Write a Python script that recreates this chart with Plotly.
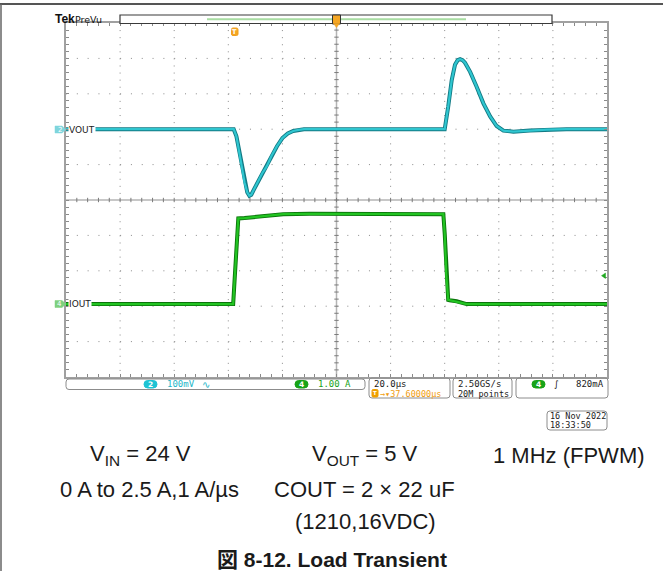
import plotly.graph_objects as go

# ---------------- data (read from the scope capture) ----------------
vout_time_us = [-100, -60, -38.0, -37.0, -36.0, -35.0, -34.0, -33.0, -32.2, -31.5, -30.5,
                -29.5, -27.5, -25.8, -24.0, -22.0, -20.0, -18.0, -16.0, -14.0, -12.0, 0,
                20, 40.0, 41.3, 42.6, 43.8, 44.8, 45.7, 46.6, 47.5, 49.4, 51.8, 54.3,
                56.8, 59.2, 61.7, 65.4, 71.5, 77.7, 85, 100]
vout_dev_mv = [0, 0, 0, -20, -60, -110, -150, -178, -188, -185, -170,
               -155, -125, -105, -75, -48, -25, -12, -5, -2, 0, 0,
               0, 0, 64, 139, 182, 195, 198, 195, 188, 162, 120, 73,
               36, 9, -4, -7, -4, -1, 0, 0]

iout_time_us = [-100, -38.2, -37.5, -36.8, -36.3, -34, -29.5, -24, -19.7, -10, 0, 20,
                39.5, 40.0, 40.6, 41.3, 41.8, 44.4, 48.1, 60, 100]
iout_a = [0, 0, 0.9, 1.9, 2.42, 2.43, 2.46, 2.5, 2.54, 2.55, 2.55, 2.55,
          2.54, 2.0, 0.8, 0.12, 0.11, 0.08, 0.0, 0.0, 0.0]

vout_scale_mv = 100      # mV/div
vout_pos_div = 2.0
iout_scale_a = 1.0       # A/div
iout_pos_div = -2.94
time_range_us = [-100, 100]
n_div = 10

caption_row1 = ["V<sub>IN</sub> = 24 V", "V<sub>OUT</sub> = 5 V", "1 MHz (FPWM)"]
caption_row2 = ["0 A to 2.5 A,1 A/µs", "COUT = 2 × 22 uF"]
caption_row3 = ["(1210,16VDC)"]
title_text = "図 8-12. Load Transient"

# ---------------- geometry helpers ----------------
W, H = 663, 571
L, R, T, B = 66, 607, 23, 377


def X(px):
    return (px - L) / (R - L)


def Y(py):
    return (B - py) / (B - T)


MONO = "DejaVu Sans Mono"
SANS = "DejaVu Sans"
CAP = "Liberation Sans, Arial, Noto Sans CJK JP"

shapes = []
annos = []


def rrect(x0, y0, x1, y1, r=3, line="#8c8c8c", fill="rgba(0,0,0,0)", lw=1):
    rx = r
    p = (f"M {X(x0+rx)},{Y(y0)} L {X(x1-rx)},{Y(y0)} Q {X(x1)},{Y(y0)} {X(x1)},{Y(y0+r)} "
         f"L {X(x1)},{Y(y1-r)} Q {X(x1)},{Y(y1)} {X(x1-rx)},{Y(y1)} "
         f"L {X(x0+rx)},{Y(y1)} Q {X(x0)},{Y(y1)} {X(x0)},{Y(y1-r)} "
         f"L {X(x0)},{Y(y0+r)} Q {X(x0)},{Y(y0)} {X(x0+rx)},{Y(y0)} Z")
    shapes.append(dict(type="path", path=p, xref="paper", yref="paper",
                       line=dict(color=line, width=lw), fillcolor=fill))


def txt(x, y, s, size=9, color="#1a1a1a", family=MONO, xanchor="left", bg=None, bold=False):
    d = dict(x=X(x), y=Y(y), xref="paper", yref="paper", text=(f"<b>{s}</b>" if bold else s),
             showarrow=False, xanchor=xanchor, yanchor="middle",
             font=dict(size=size, color=color, family=family), borderpad=0)
    if bg:
        d["bgcolor"] = bg
    annos.append(d)


def pline(x0, y0, x1, y1, color, width=1, dash=None):
    ln = dict(color=color, width=width)
    if dash:
        ln["dash"] = dash
    shapes.append(dict(type="line", xref="paper", yref="paper", x0=X(x0), y0=Y(y0),
                       x1=X(x1), y1=Y(y1), line=ln))


def ppath(pts, fill, line=None):
    p = "M " + " L ".join(f"{X(a)},{Y(b)}" for a, b in pts) + " Z"
    shapes.append(dict(type="path", path=p, xref="paper", yref="paper", fillcolor=fill,
                       line=dict(color=line or fill, width=0.5)))


# ---------------- graticule ----------------
t0, t1 = time_range_us
tdiv = (t1 - t0) / n_div
half = n_div / 2
dot_h = f"1px,{(R - L) / 50 - 1:.2f}px"
dot_v = f"1px,{(B - T) / 50 - 1:.2f}px"
for i in range(1, n_div):
    if i == n_div // 2:
        continue
    xv = t0 + i * tdiv
    shapes.append(dict(type="line", xref="x", yref="y", x0=xv, x1=xv, y0=half, y1=-half,
                       line=dict(color="#8a8a8a", width=1, dash=dot_v), layer="below"))
    yv = -half + i
    shapes.append(dict(type="line", xref="x", yref="y", x0=t0, x1=t1, y0=yv, y1=yv,
                       line=dict(color="#8a8a8a", width=1, dash=dot_h), layer="below"))
# center cross
shapes.append(dict(type="line", xref="x", yref="y", x0=0, x1=0, y0=-half, y1=half,
                   line=dict(color="#b4b4b4", width=1.5), layer="below"))
shapes.append(dict(type="line", xref="x", yref="y", x0=t0, x1=t1, y0=0, y1=0,
                   line=dict(color="#b4b4b4", width=1.5), layer="below"))
tx_half = 2.2 / (R - L) * (t1 - t0)
ty_half = 2.2 / (B - T) * n_div
for k in range(1, 50):
    tv = t0 + k * tdiv / 5
    shapes.append(dict(type="line", xref="x", yref="y", x0=tv, x1=tv, y0=-ty_half, y1=ty_half,
                       line=dict(color="#7a7a7a", width=1), layer="below"))
    yv = -half + k * 0.2
    shapes.append(dict(type="line", xref="x", yref="y", x0=-tx_half, x1=tx_half, y0=yv, y1=yv,
                       line=dict(color="#7a7a7a", width=1), layer="below"))

# ---------------- traces ----------------
fig = go.Figure()
fig.add_trace(go.Scatter(x=iout_time_us, y=iout_a, yaxis="y3", mode="lines",
                         line=dict(color="#0b730b", width=4), hoverinfo="skip"))
fig.add_trace(go.Scatter(x=iout_time_us, y=iout_a, yaxis="y3", mode="lines",
                         line=dict(color="#22c422", width=2.2), hoverinfo="skip"))
fig.add_trace(go.Scatter(x=vout_time_us, y=vout_dev_mv, yaxis="y2", mode="lines",
                         line=dict(color="#137a84", width=4), hoverinfo="skip"))
fig.add_trace(go.Scatter(x=vout_time_us, y=vout_dev_mv, yaxis="y2", mode="lines",
                         line=dict(color="#2fc6d0", width=2.2), hoverinfo="skip"))

# ---------------- page frame ----------------
pline(0, 4, W, 4, "#555555", 2)
pline(1, 4, 1, H, "#666666", 1.5)

# top: Tek PreVu and record bar
txt(54, 18.8, "Tek", size=12, family="Liberation Sans", bold=True, color="#111")
txt(73.5, 19.3, "PreVu", size=9.5, family=SANS, color="#111")
shapes.append(dict(type="rect", xref="paper", yref="paper", x0=X(120), x1=X(552), y0=Y(15), y1=Y(23.5),
                   line=dict(color="#3a3a3a", width=1.2), fillcolor="white"))
pline(207, 19.3, 466, 19.3, "#a8dca2", 2)
shapes.append(dict(type="rect", xref="paper", yref="paper", x0=X(332.5), x1=X(340.5), y0=Y(15), y1=Y(24),
                   line=dict(color="#333333", width=1), fillcolor="#f5a623"))
ppath([(333.5, 23.5), (339.5, 23.5), (336.5, 27.5)], "#f5a623")

# trigger position marker on graticule
rrect(231.5, 28, 238, 35.5, r=1.5, line="#f0a020", fill="#f5a623")
txt(234.8, 31.8, "T", size=6.5, color="white", family=SANS, xanchor="center", bold=True)

# channel labels
ppath([(55, 126), (62, 126), (66, 129.5), (62, 133), (55, 133)], "#7fd5dc")
txt(59.5, 129.5, "2", size=7, color="white", family=SANS, xanchor="center")
txt(67.5, 129.5, "VOUT", size=9, family=SANS, color="#222", bg="white")
ppath([(55, 300.5), (62, 300.5), (66, 304), (62, 307.5), (55, 307.5)], "#7fd07f")
txt(59.5, 304, "4", size=7, color="white", family=SANS, xanchor="center")
txt(67.5, 304, "IOUT", size=9, family=SANS, color="#222", bg="white")

# trigger level arrow at right edge
ppath([(601.5, 275.7), (605.5, 273), (605.5, 278.5)], "#1fa81f")

# ---------------- bottom readouts ----------------
rrect(66, 379, 365, 389.5, r=3)
rrect(144, 380.5, 157, 388, r=3.7, line="#1ec3d3", fill="#1ec3d3")
txt(150.5, 384.3, "2", size=7.5, color="white", family=SANS, xanchor="center", bold=True)
txt(166, 384.3, "100mV", color="#1eb6c8")
txt(201, 384, "∿", size=10, color="#1eb6c8", family=SANS)
rrect(295, 380.5, 308, 388, r=3.7, line="#17a317", fill="#17a317")
txt(301.5, 384.3, "4", size=7.5, color="white", family=SANS, xanchor="center", bold=True)
txt(317, 384.3, "1.00 A", color="#17a317")

rrect(369, 378, 450, 398)
txt(372.5, 383.5, "20.0µs")
rrect(372, 389.5, 378, 397, r=1.2, line="#f0a000", fill="#f0a000")
txt(375, 393.3, "T", size=5.5, color="white", family=SANS, xanchor="center", bold=True)
txt(378.5, 393.5, "→▾37.60000µs", size=8.5, color="#f09c10")

rrect(453, 378, 512, 398)
txt(456.5, 383.5, "2.50GS/s")
txt(456.5, 393.5, "20M points", size=8.5)

rrect(516, 378, 608, 398)
rrect(532, 380.5, 545, 388, r=3.7, line="#17a317", fill="#17a317")
txt(538.5, 384.3, "4", size=7.5, color="white", family=SANS, xanchor="center", bold=True)
txt(553, 384, "∫", size=9, family=SANS, color="#111")
txt(605, 383.8, "820mA", xanchor="right")

rrect(547, 411, 607, 430)
txt(549, 415.8, "16 Nov 2022", size=8.5)
txt(549, 424.6, "18:33:50", size=8.5)

# ---------------- caption ----------------
for s, cx in zip(caption_row1, [140, 365, 569]):
    txt(cx, 455, s, size=22, family=CAP, color="#1a1a1a", xanchor="center")
for s, cx in zip(caption_row2, [149, 364]):
    txt(cx, 489, s, size=22, family=CAP, color="#1a1a1a", xanchor="center")
txt(365, 521, caption_row3[0], size=22, family=CAP, color="#1a1a1a", xanchor="center")
txt(332, 559, title_text, size=21, family=CAP, color="#1a1a1a", xanchor="center", bold=True)

# ---------------- layout ----------------
fig.update_layout(
    width=W, height=H,
    margin=dict(l=L, r=W - R, t=T, b=H - B, pad=0),
    paper_bgcolor="white", plot_bgcolor="white",
    showlegend=False,
    xaxis=dict(range=time_range_us, showgrid=False, zeroline=False, showticklabels=False,
               ticks="inside", tick0=0, dtick=tdiv / 5, ticklen=3, tickcolor="#8a8a8a",
               showline=True, linecolor="#a0a0a0", linewidth=2, mirror="ticks", fixedrange=True),
    yaxis=dict(range=[-half, half], showgrid=False, zeroline=False, showticklabels=False,
               ticks="inside", tick0=0, dtick=0.2, ticklen=3, tickcolor="#8a8a8a",
               showline=True, linecolor="#a0a0a0", linewidth=2, mirror="ticks", fixedrange=True),
    yaxis2=dict(overlaying="y", visible=False, fixedrange=True,
                range=[(-half - vout_pos_div) * vout_scale_mv, (half - vout_pos_div) * vout_scale_mv]),
    yaxis3=dict(overlaying="y", visible=False, fixedrange=True,
                range=[(-half - iout_pos_div) * iout_scale_a, (half - iout_pos_div) * iout_scale_a]),
    shapes=shapes,
    annotations=annos,
)

fig.write_html("out.html", config={"displayModeBar": False},
               post_script="document.body.style.margin='0px';document.body.style.overflow='hidden';")
